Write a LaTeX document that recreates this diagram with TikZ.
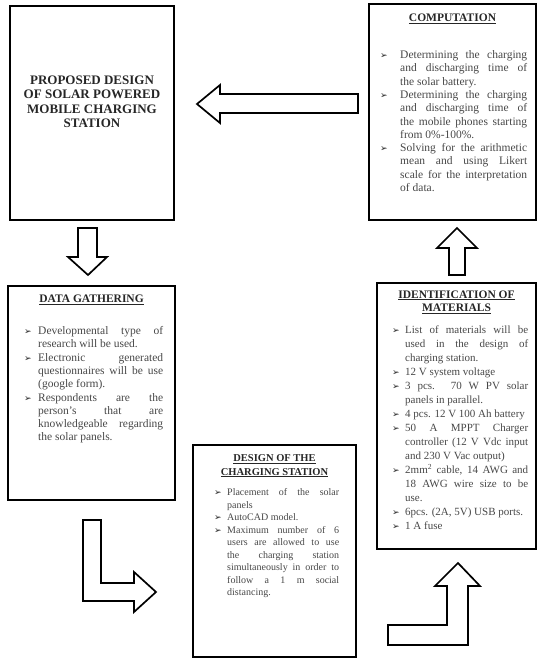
\documentclass[tikz,border=0pt]{standalone}
\usepackage{fontspec}
\setmainfont{Liberation Serif}
\newfontfamily\bulletfont{DejaVu Sans}
\usepackage{xcolor}
\usetikzlibrary{positioning}

\definecolor{bodygray}{HTML}{474747}
\definecolor{headgray}{HTML}{262626}

\newcommand{\arrowbullet}{{\bulletfont\fontsize{9}{9}\selectfont\color{headgray}➢}}
\newenvironment{arrowlist}[1]{%
  \begin{list}{\arrowbullet}{%
    \setlength{\leftmargin}{#1}\setlength{\labelwidth}{#1}%
    \setlength{\labelsep}{0pt}\setlength{\itemsep}{0pt}%
    \setlength{\parsep}{0pt}\setlength{\topsep}{0pt}%
    \setlength{\partopsep}{0pt}%
    \renewcommand{\makelabel}[1]{##1\hfil}}}%
  {\end{list}}
\hbadness=10000
\tolerance=10000

\begin{document}
\begin{tikzpicture}[x=1pt, y=-1pt,
    box/.style={draw, line width=2.4pt, inner sep=0pt},
    blockarrow/.style={draw, line width=1.7pt, line join=miter, fill=white},
    head/.style={align=center, inner sep=0pt, text=headgray,
      font=\bfseries\fontsize{11.5}{13.3}\selectfont},
    body/.style={text width=#1, align=justify, inner sep=0pt, anchor=north west,
      text=bodygray, font=\fontsize{11.5}{13.3}\selectfont}]
\useasboundingbox (0,0) rectangle (537,659);

%Boxes
\node[box, minimum width=164pt, minimum height=214pt] (prop) at (92,113) {};
\node[box, minimum width=167pt, minimum height=216pt] (comp) at (452.5,112) {};
\node[box, minimum width=167pt, minimum height=214pt] (data) at (91.5,393) {};
\node[box, minimum width=159pt, minimum height=266pt] (ident) at (456.5,416) {};
\node[box, minimum width=163pt, minimum height=212pt] (design) at (274.5,551) {};

%Title
\node[align=center, inner sep=0pt, font=\bfseries\fontsize{13}{14.5}\selectfont, text=headgray]
  (propt) at (92,102) {PROPOSED DESIGN\\OF SOLAR POWERED\\MOBILE CHARGING\\STATION};

%Computation
\node[head] (comph) at (452.5,19) {\underline{COMPUTATION}};
\node[body=147pt] (compt) at (380,45) {%
  \begin{arrowlist}{20pt}
  \item Determining the charging\linebreak and discharging time of\linebreak the solar battery.
  \item Determining the charging\linebreak and discharging time of\linebreak the mobile phones starting\linebreak from 0\%-100\%.
  \item Solving for the arithmetic\linebreak mean and using Likert\linebreak scale for the interpretation\linebreak of data.
  \end{arrowlist}};

%Data gathering
\node[head] (datah) at (91.5,300) {\underline{DATA GATHERING}};
\node[body=139pt] (datat) at (24,321) {%
  \begin{arrowlist}{14pt}
  \item Developmental type of\linebreak research will be used.
  \item Electronic generated\linebreak questionnaires will be use\linebreak (google form).
  \item Respondents are the\linebreak person’s that are\linebreak knowledgeable regarding\linebreak the solar panels.
  \end{arrowlist}};

%Identification of materials
\node[head] (identh) at (456.5,302) {\underline{IDENTIFICATION OF}\\\underline{MATERIALS}};
\node[body=136pt, font=\fontsize{11}{14}\selectfont] (identt) at (392,319) {%
  \begin{arrowlist}{13pt}
  \item List of materials will be\linebreak used in the design of\linebreak charging station.
  \item 12 V system voltage
  \item 3 pcs. 70 W PV solar\linebreak panels in parallel.
  \item 4 pcs. 12 V 100 Ah battery
  \item 50 A MPPT Charger\linebreak controller (12 V Vdc input\linebreak and 230 V Vac output)
  \item 2mm\textsuperscript{2} cable, 14 AWG and\linebreak 18 AWG wire size to be\linebreak use.
  \item 6pcs. (2A, 5V) USB ports.
  \item 1 A fuse
  \end{arrowlist}};

%Design of the charging station
\node[head, font=\bfseries\fontsize{10.5}{13.5}\selectfont] (designh) at (274.5,466) {\underline{DESIGN OF THE}\\\underline{CHARGING STATION}};
\node[body=125pt, font=\fontsize{10}{12.5}\selectfont] (designt) at (214,483) {%
  \begin{arrowlist}{13pt}
  \item Placement of the solar\linebreak panels
  \item AutoCAD model.
  \item Maximum number of 6\linebreak users are allowed to use\linebreak the charging station\linebreak simultaneously in order to\linebreak follow a 1 m social\linebreak distancing.
  \end{arrowlist}};

%Arrows
\draw[blockarrow] (358,94) -- (220,94) -- (220,85) -- (197,104) -- (220,123) -- (220,113) -- (358,113) -- cycle;
\draw[blockarrow] (78,228) -- (78,257) -- (68,257) -- (88,275) -- (107,257) -- (97,257) -- (97,228) -- cycle;
\draw[blockarrow] (449,275) -- (449,248) -- (437,248) -- (457,228) -- (477,248) -- (465,248) -- (465,275) -- cycle;
\draw[blockarrow] (83,520) -- (83,601) -- (134,601) -- (134,612) -- (156,592) -- (134,572) -- (134,583) -- (101,583) -- (101,520) -- cycle;
\draw[blockarrow] (388,625) -- (388,645) -- (468,645) -- (468,586) -- (480,586) -- (458,563) -- (435,586) -- (447,586) -- (447,625) -- cycle;
\end{tikzpicture}
\end{document}
